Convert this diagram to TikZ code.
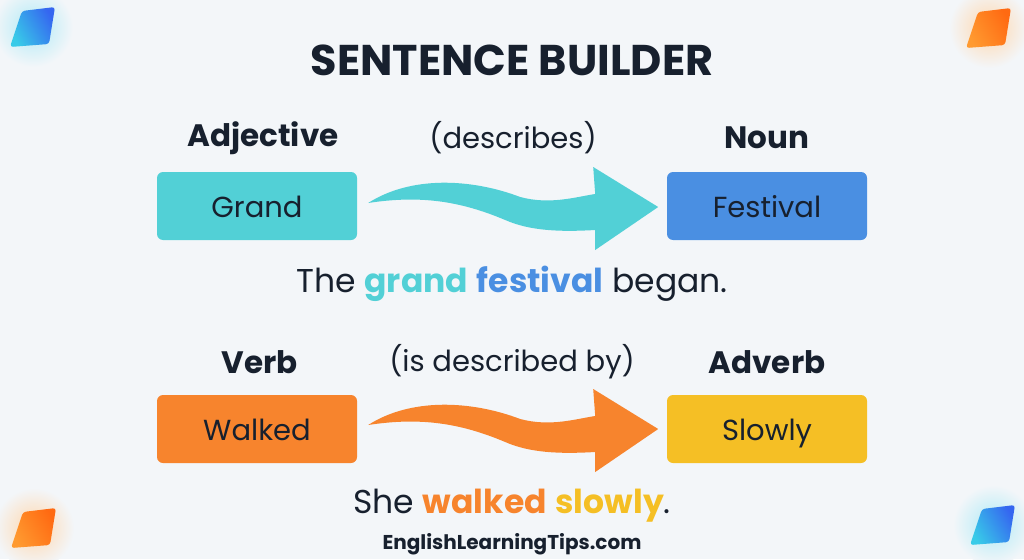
\documentclass[tikz,border=0pt]{standalone}
\usepackage{fontspec}
\setmainfont{Poppins}
\usetikzlibrary{calc}
\definecolor{bgc}{HTML}{F3F6F9}
\definecolor{ink}{HTML}{17202E}
\definecolor{cteal}{HTML}{52D0D6}
\definecolor{cblue}{HTML}{4A8FE2}
\definecolor{corange}{HTML}{F7842D}
\definecolor{cyellow}{HTML}{F5BF25}
\definecolor{gemcyan}{HTML}{38CBE8}
\definecolor{gemblue}{HTML}{3566F0}
\definecolor{gemora}{HTML}{FF9A30}
\definecolor{gemred}{HTML}{FF6A12}
\tikzset{
  title/.style={font=\fontsize{43}{48}\selectfont\bfseries, text=ink},
  hdr/.style={font=\fontsize{31}{36}\selectfont\bfseries, text=ink},
  rel/.style={font=\fontsize{29}{34}\selectfont, text=ink},
  wordbox/.style={rounded corners=6pt, minimum width=200pt, minimum height=68pt, inner sep=0pt, text height=22pt, text depth=0pt, font=\fontsize{29}{34}\selectfont, text=ink},
  sentence/.style={font=\fontsize{33}{38}\selectfont, text=ink},
  footer/.style={font=\fontsize{20}{24}\selectfont\bfseries, text=ink},
  pics/wavearrow/.style={code={
    \fill[#1] (0,0) .. controls (42,-27) and (102,-25) .. (152,-6)
      .. controls (182,2) and (207,-6) .. (227,-9) -- (225,-36) -- (290,4)
      -- (227,47) -- (227,27) .. controls (192,29) and (162,28) .. (137,17)
      .. controls (92,-2) and (52,-8) .. (0,0) -- cycle;
  }},
  pics/gem/.style 2 args={code={
    \shade[inner color=#1!40, outer color=bgc] (0,0) circle (40);
    \shade[rounded corners=3pt, left color=#1, right color=#2, shading angle=120]
      (-11,-16) -- (22,-20) -- (16,17) -- (-23,20) -- cycle;
  }}
}
\begin{document}
\begin{tikzpicture}[x=1pt,y=-1pt]
\fill[bgc] (0,0) rectangle (1024,559);
\useasboundingbox (0,0) rectangle (1024,559);
% corner decorations
\pic at (33,27) {gem={gemcyan}{gemblue}};
\pic at (989,28) {gem={gemora}{gemred}};
\pic at (34,528) {gem={gemora}{gemred}};
\pic at (993,525) {gem={gemcyan}{gemblue}};
% title
\node[title] (title) at (512,60) {SENTENCE BUILDER};
% row 1
\node[hdr] (adj) at (263,138) {Adjective};
\node[rel] (describes) at (513,138) {(describes)};
\node[hdr] (noun) at (767,138) {Noun};
\node[wordbox, fill=cteal] (grand) at (257,206) {Grand};
\node[wordbox, fill=cblue] (festival) at (767,206) {Festival};
\pic at ($(grand.east)+(11,-3)$) {wavearrow=cteal};
\node[sentence] (s1) at (512,284) {The \textcolor{cteal}{\bfseries grand} \textcolor{cblue}{\bfseries festival} began.};
% row 2
\node[hdr] (verb) at (260,362) {Verb};
\node[rel] (isdesc) at (512,362) {(is described by)};
\node[hdr] (adverb) at (767,362) {Adverb};
\node[wordbox, fill=corange] (walked) at (257,429) {Walked};
\node[wordbox, fill=cyellow] (slowly) at (767,429) {Slowly};
\pic at ($(walked.east)+(11,-4)$) {wavearrow=corange};
\node[sentence] (s2) at (512,506) {She \textcolor{corange}{\bfseries walked} \textcolor{cyellow}{\bfseries slowly}.};
% footer
\node[footer] (footer) at (512,544) {EnglishLearningTips.com};
\end{tikzpicture}
\end{document}
